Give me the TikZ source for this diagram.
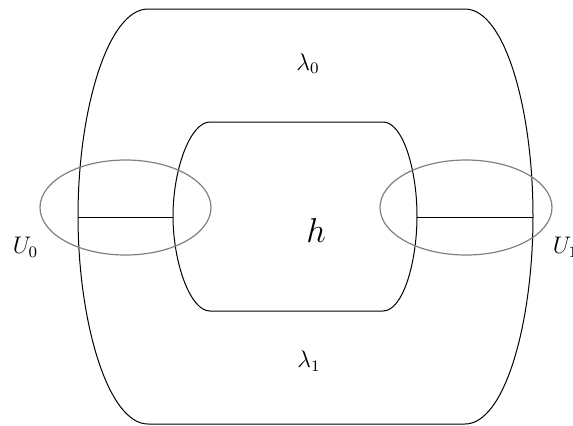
\documentclass[tikz,border=0pt]{standalone}
\usepackage{amsmath,amssymb}
\begin{document}
\begin{tikzpicture}[x=0.5pt,y=-0.5pt,line width=.5pt]
\tikzset{nbhd/.style={gray,line width=.6pt},lab/.style={font=\large,inner sep=0pt}}
\useasboundingbox (0,0) rectangle (573,425);
% outer and inner boundary
\draw (148,9) -- (465,9) .. controls (505,9) and (533,110) .. (533,216)
      .. controls (533,322) and (505,424) .. (465,424) -- (148,424)
      .. controls (108,424) and (78,322) .. (78,216)
      .. controls (78,110) and (108,9) .. (148,9);
\draw (210,122) -- (383,122) .. controls (403,122) and (417,170) .. (417,216)
      .. controls (417,262) and (403,311) .. (383,311) -- (210,311)
      .. controls (190,311) and (173,262) .. (173,216)
      .. controls (173,170) and (190,122) .. (210,122);
\coordinate (l0) at (78,217);
\coordinate (l1) at (173,217);
\coordinate (r0) at (417,217);
\coordinate (r1) at (533,217);
\draw (l0) -- (l1);
\draw (r0) -- (r1);
\draw[nbhd] (125.5,207.5) ellipse (85.5 and 47.5);
\draw[nbhd] (466,207.5) ellipse (86 and 47.5);
\node[lab] (lam0) at (308,63.5) {$\lambda_0$};
\node[lab,font=\LARGE] (hh) at (316,230) {$h$};
\node[lab] (lam1) at (309,361) {$\lambda_1$};
\node[lab] (u0) at (25.5,247) {$U_0$};
\node[lab] (u1) at (565.5,247) {$U_1$};
\end{tikzpicture}
\end{document}
